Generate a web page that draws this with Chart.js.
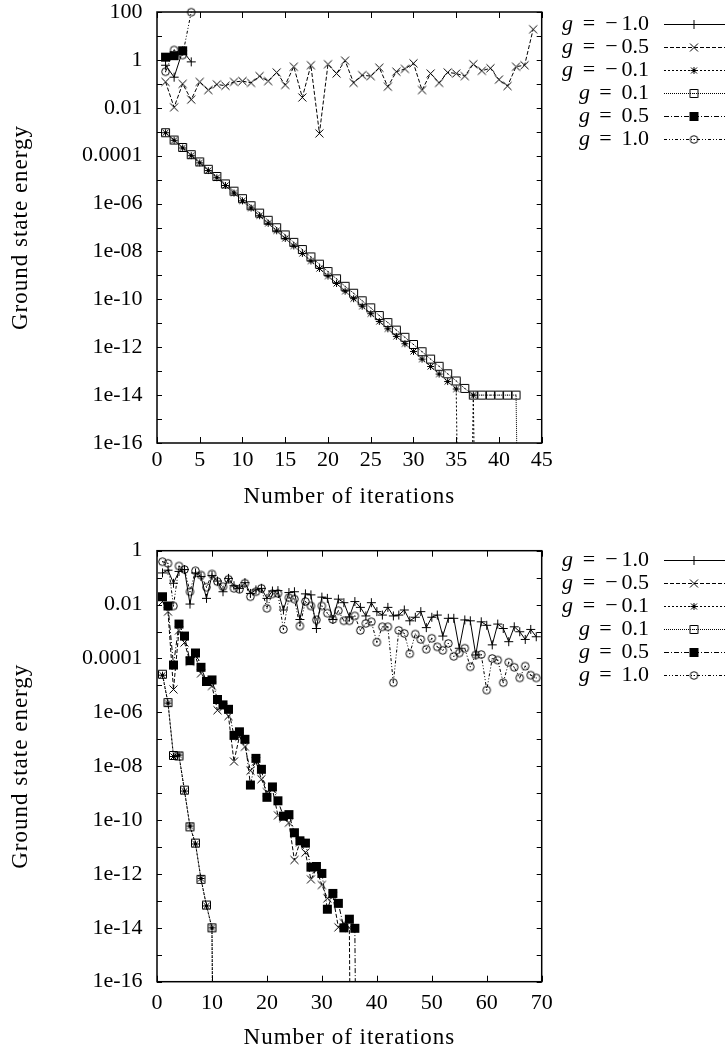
<!DOCTYPE html>
<html>
<head>
<meta charset="utf-8">
<script src="https://cdn.jsdelivr.net/npm/chart.js@4"></script>
<style>
  html, body { margin: 0; padding: 0; background: #fff; }
  #wrap { position: relative; width: 727px; height: 1053px; }
  canvas { position: absolute; left: 0; }
  #topChart { top: 0; }
  #bottomChart { top: 526px; }
</style>
</head>
<body>
<div id="wrap">
  <canvas id="topChart" width="727" height="526"></canvas>
  <canvas id="bottomChart" width="727" height="527"></canvas>
</div>
<script>
var FONT = '"Liberation Serif", "Times New Roman", serif';
var FIRST_ITER = 1;
var TINY = 1e-40; // energy underflowed: curve drops off the bottom of the log axis

var couplings = ['\u22121.0', '\u22120.5', '\u22120.1', '0.1', '0.5', '1.0'];
var xTitle = 'Number of iterations';
var yTitle = 'Ground state energy';

// ---- first run (iterations start at 1) ----
var top_m10 = [0.6, 0.19, 2.4, 0.83];
var top_m05 = [0.12, 0.0105, 0.1, 0.022, 0.12, 0.055, 0.095, 0.083, 0.12, 0.13,
               0.11, 0.21, 0.13, 0.3, 0.09, 0.52, 0.027, 0.6, 0.00085, 0.66,
               0.27, 0.93, 0.11, 0.23, 0.21, 0.47, 0.076, 0.32, 0.42, 0.72,
               0.055, 0.27, 0.11, 0.3, 0.27, 0.21, 0.66, 0.35, 0.45, 0.15,
               0.081, 0.52, 0.6, 19];
var top_m01 = [9.1e-4, 4.4e-4, 2.1e-4, 1.0e-4, 5.0e-5, 2.4e-5, 1.2e-5, 5.7e-6, 2.75e-6, 1.3e-6,
               6.5e-7, 3.1e-7, 1.5e-7, 7.3e-8, 3.5e-8, 1.7e-8, 8.3e-9, 4.0e-9, 1.95e-9, 9.4e-10,
               4.6e-10, 2.2e-10, 1.07e-10, 5.2e-11, 2.5e-11, 1.2e-11, 5.9e-12, 2.85e-12, 1.4e-12, 6.7e-13,
               3.2e-13, 1.57e-13, 7.6e-14, 3.7e-14, 1.8e-14, TINY, 1e-14, TINY];
var top_p01 = [9.1e-4, 4.5e-4, 2.2e-4, 1.1e-4, 5.5e-5, 2.7e-5, 1.35e-5, 6.6e-6, 3.3e-6, 1.6e-6,
               8.1e-7, 4.0e-7, 2.0e-7, 9.8e-8, 4.9e-8, 2.4e-8, 1.2e-8, 5.9e-9, 2.95e-9, 1.45e-9,
               7.2e-10, 3.5e-10, 1.8e-10, 8.7e-11, 4.4e-11, 2.1e-11, 1.07e-11, 5.2e-12, 2.6e-12, 1.3e-12,
               6.5e-13, 3.2e-13, 1.6e-13, 7.8e-14, 3.9e-14, 1.9e-14, 1e-14, 1e-14, 1e-14, 1e-14,
               1e-14, 1e-14, TINY];
var top_p05 = [1.3, 1.5, 2.4];
var top_p10 = [0.32, 2.6, 1.6, 98];

// ---- second run ----
var bot_m10 = [0.15, 0.19, 0.062, 0.17, 0.2, 0.0105, 0.15, 0.11, 0.017, 0.12,
               0.075, 0.03, 0.094, 0.05, 0.04, 0.065, 0.026, 0.035, 0.04, 0.017,
               0.032, 0.033, 0.0063, 0.028, 0.03, 0.0028, 0.025, 0.023, 0.0013, 0.019,
               0.017, 0.0028, 0.016, 0.0118, 0.0035, 0.013, 0.0079, 0.0038, 0.0118, 0.0055,
               0.0041, 0.0079, 0.0038, 0.0041, 0.0063, 0.0025, 0.0034, 0.0055, 0.0014, 0.0034,
               0.0041, 0.00068, 0.0031, 0.0031, 0.00024, 0.0027, 0.0025, 0.000135, 0.0023, 0.0017,
               0.00032, 0.0019, 0.0013, 0.00042, 0.0015, 0.00098, 0.00051, 0.0012, 0.00064];
var bot_m05 = [0.013, 0.0055, 7.1e-6, 0.0011, 3.9e-4, 7.6e-5, 1.2e-4, 2.8e-5, 1.4e-5, 9.5e-6,
               1.2e-6, 1.5e-6, 7.3e-7, 1.5e-8, 1.25e-7, 5.3e-8, 6.8e-9, 1.5e-8, 3.3e-9, 1.1e-9,
               1.4e-9, 1.5e-10, 1.2e-10, 8e-11, 3.3e-12, 1.5e-11, 6.2e-12, 6.3e-13, 1.5e-12, 3.9e-13,
               1.25e-13, 1.5e-13, 1.05e-14, 1.5e-14, 1e-14, TINY];
var bot_m01 = [2.4e-5, 2.2e-6, 2.3e-8, 2.6e-8, 1.2e-9, 6e-11, 1.3e-11, 6.8e-13, 6.5e-14, 1e-14, TINY];
var bot_p01 = [2.6e-5, 2.3e-6, 2.5e-8, 2.4e-8, 1.3e-9, 5.6e-11, 1.4e-11, 6.3e-13, 7e-14, 1e-14, TINY];
var bot_p05 = [0.0196, 0.0089, 5.7e-5, 0.0019, 6.8e-4, 8.3e-5, 1.6e-4, 4.7e-5, 1.4e-5, 1.6e-5,
               3e-6, 1.9e-6, 1.3e-6, 1.4e-7, 1.9e-7, 1e-7, 2e-9, 1.96e-8, 7.7e-9, 7e-10,
               1.7e-9, 5.2e-10, 1.4e-10, 1.6e-10, 3.4e-11, 1.7e-11, 1.4e-11, 1.8e-12, 1.9e-12, 1.05e-12,
               4.9e-14, 1.9e-13, 8.1e-14, 1e-14, 2.1e-14, 9.6e-15, TINY];
var bot_p10 = [0.39, 0.34, 0.0089, 0.27, 0.2, 0.03, 0.18, 0.125, 0.044, 0.137,
               0.071, 0.046, 0.087, 0.04, 0.037, 0.062, 0.0196, 0.03, 0.04, 0.0073,
               0.025, 0.026, 0.0012, 0.018, 0.016, 0.0016, 0.013, 0.0089, 0.0027, 0.0089,
               0.0048, 0.0028, 0.0059, 0.0025, 0.0025, 0.0038, 0.0011, 0.002, 0.0023, 0.0004,
               0.0015, 0.0015, 1.26e-5, 0.0011, 0.00085, 0.00015, 0.0008, 0.00051, 0.00022, 0.00056,
               0.00027, 0.0002, 0.00036, 0.00012, 0.00016, 0.00024, 4.9e-5, 0.000135, 0.00014, 6.7e-6,
               0.0001, 8.7e-5, 1.26e-5, 7.2e-5, 4.7e-5, 1.9e-5, 5.2e-5, 2.4e-5, 1.9e-5];

// labelled y ticks
var topYTicks = [1e-16, 1e-14, 1e-12, 1e-10, 1e-8, 1e-6, 1e-4, 0.01, 1, 100];
var topYLabels = ['1e-16', '1e-14', '1e-12', '1e-10', '1e-08', '1e-06', '0.0001', '0.01', '1', '100'];
var botYTicks = [1e-16, 1e-14, 1e-12, 1e-10, 1e-8, 1e-6, 1e-4, 0.01, 1];
var botYLabels = ['1e-16', '1e-14', '1e-12', '1e-10', '1e-08', '1e-06', '0.0001', '0.01', '1'];

// line type per coupling: dash pattern + point symbol
var seriesStyles = [
    {dash: [], marker: 'plus'},
    {dash: [4, 2], marker: 'cross'},
    {dash: [2, 2], marker: 'star'},
    {dash: [1, 1], marker: 'box'},
    {dash: [5, 2, 1, 2], marker: 'boxfill'},
    {dash: [3, 2, 1, 2, 1, 2], marker: 'circle'}
];

function makeMarker(kind) {
    var c = document.createElement('canvas');
    c.width = 11;
    c.height = 11;
    var g = c.getContext('2d');
    g.strokeStyle = '#000';
    g.fillStyle = '#000';
    g.lineWidth = 1;
    g.beginPath();
    if (kind === 'plus') {
        g.moveTo(1, 5.5); g.lineTo(10, 5.5);
        g.moveTo(5.5, 1); g.lineTo(5.5, 10);
    } else if (kind === 'cross') {
        g.moveTo(1.5, 1.5); g.lineTo(9.5, 9.5);
        g.moveTo(9.5, 1.5); g.lineTo(1.5, 9.5);
    } else if (kind === 'star') {
        g.moveTo(2, 5.5); g.lineTo(9, 5.5);
        g.moveTo(5.5, 2); g.lineTo(5.5, 9);
        g.moveTo(2.5, 2.5); g.lineTo(8.5, 8.5);
        g.moveTo(8.5, 2.5); g.lineTo(2.5, 8.5);
    } else if (kind === 'box') {
        g.rect(1.5, 1.5, 8, 8);
        g.fillRect(5, 5, 1, 1);
    } else if (kind === 'boxfill') {
        g.fillRect(1, 1, 9, 9);
    } else if (kind === 'circle') {
        g.arc(5.5, 5.5, 3.8, 0, Math.PI * 2);
        g.fillRect(5, 5, 1, 1);
    }
    g.stroke();
    return c;
}

var markers = {};
seriesStyles.forEach(function (s) { markers[s.marker] = makeMarker(s.marker); });

function buildDatasets(series) {
    return series.map(function (ys, k) {
        var st = seriesStyles[k];
        return {
            label: 'g = ' + couplings[k],
            data: ys.map(function (y, i) { return {x: FIRST_ITER + i, y: y}; }),
            borderColor: '#000',
            backgroundColor: '#000',
            borderWidth: 1,
            borderDash: st.dash,
            pointStyle: markers[st.marker],
            pointRadius: 4,
            pointHoverRadius: 4,
            tension: 0,
            fill: false,
            clip: {left: 8, top: 8, right: 8, bottom: 0},
            order: -k
        };
    });
}

// border box with inward ticks on all four sides, plus the axis titles
var framePlugin = {
    id: 'frame',
    afterDatasetsDraw: function (chart, args, opts) {
        var a = chart.chartArea, ctx = chart.ctx;
        var xs = chart.scales.x, ys = chart.scales.y;
        ctx.save();
        ctx.setLineDash([]);
        ctx.strokeStyle = '#000';
        ctx.lineWidth = 1;
        ctx.beginPath();
        for (var e = opts.yExpMin; e <= opts.yExpMax; e++) {
            var py = Math.round(ys.getPixelForValue(Math.pow(10, e))) + 0.5;
            ctx.moveTo(a.left, py); ctx.lineTo(a.left + 5, py);
            ctx.moveTo(a.right, py); ctx.lineTo(a.right - 5, py);
        }
        xs.ticks.forEach(function (t) {
            var px = Math.round(xs.getPixelForValue(t.value)) + 0.5;
            ctx.moveTo(px, a.bottom); ctx.lineTo(px, a.bottom - 6);
            ctx.moveTo(px, a.top); ctx.lineTo(px, a.top + 6);
        });
        ctx.stroke();
        ctx.lineWidth = 1.5;
        ctx.strokeRect(a.left, a.top, a.right - a.left, a.bottom - a.top);

        // titles: slightly tracked out, closer to the wide TeX face
        ctx.fillStyle = '#000';
        ctx.font = '23px ' + FONT;
        ctx.textAlign = 'center';
        ctx.textBaseline = 'middle';
        ctx.letterSpacing = '1px';
        ctx.fillText(xTitle, (a.left + a.right) / 2, opts.xTitleY);
        ctx.translate(opts.yTitleX, (a.top + a.bottom) / 2);
        ctx.rotate(-Math.PI / 2);
        ctx.fillText(yTitle, 0, 0);
        ctx.restore();
    }
};

// key at the right: "g = value" then a line sample with its symbol
var keyPlugin = {
    id: 'keyBox',
    afterDraw: function (chart, args, opts) {
        var ctx = chart.ctx;
        ctx.save();
        ctx.fillStyle = '#000';
        ctx.textBaseline = 'middle';
        chart.data.datasets.forEach(function (ds, k) {
            var y = opts.top + k * opts.step;
            var val = couplings[k];
            var neg = val.charAt(0) === '\u2212';
            var digits = neg ? val.slice(1) : val;
            ctx.font = '22px ' + FONT;
            ctx.textAlign = 'right';
            ctx.fillText(digits, opts.textRight, y);
            ctx.textAlign = 'center';
            if (neg) {
                ctx.fillText('\u2212', opts.textRight - 37.5, y);
                ctx.fillText('=', opts.textRight - 60, y);
            } else {
                ctx.fillText('=', opts.textRight - 43.5, y);
            }
            ctx.font = 'italic 22px ' + FONT;
            ctx.textAlign = 'right';
            ctx.fillText('g', opts.textRight - (neg ? 76 : 59), y);

            var ly = Math.round(y) + 0.5;
            ctx.strokeStyle = '#000';
            ctx.lineWidth = 1;
            ctx.setLineDash(ds.borderDash);
            ctx.beginPath();
            ctx.moveTo(opts.lineLeft, ly);
            ctx.lineTo(opts.lineRight, ly);
            ctx.stroke();
            ctx.setLineDash([]);
            var m = ds.pointStyle;
            ctx.drawImage(m, opts.markX - m.width / 2, ly - m.height / 2);
        });
        ctx.restore();
    }
};

function makeOptions(cfg) {
    return {
        responsive: false,
        animation: false,
        devicePixelRatio: 1,
        events: [],
        layout: {padding: {left: 0, top: cfg.plotTop, right: 727 - cfg.plotRight, bottom: 0}},
        plugins: {
            legend: {display: false},
            tooltip: {enabled: false},
            frame: {yExpMin: cfg.yExpMin, yExpMax: cfg.yExpMax, xTitleY: cfg.xTitleY, yTitleX: 21},
            keyBox: {top: cfg.keyTop, step: 23, textRight: 649, lineLeft: 664, lineRight: 725, markX: 694}
        },
        scales: {
            x: {
                type: 'linear',
                min: 0,
                max: cfg.xMax,
                grid: {display: false, drawTicks: false},
                border: {display: false},
                ticks: {stepSize: cfg.xStep, padding: cfg.xTickPad, autoSkip: false, maxRotation: 0, color: '#000'},
                title: {display: false},
                afterFit: function (s) {
                    s.height = cfg.xAxisHeight;
                    s.paddingLeft = 0;
                    s.paddingRight = 0;
                }
            },
            y: {
                type: 'logarithmic',
                min: Math.pow(10, cfg.yExpMin),
                max: Math.pow(10, cfg.yExpMax),
                grid: {display: false, drawTicks: false},
                border: {display: false},
                ticks: {
                    padding: 14.5,
                    autoSkip: false,
                    color: '#000',
                    callback: function (v, i) { return cfg.yLabels[i]; }
                },
                afterBuildTicks: function (s) {
                    s.ticks = cfg.yTicks.map(function (v) { return {value: v}; });
                },
                title: {display: false},
                afterFit: function (s) {
                    s.width = 157;
                    s.paddingTop = 0;
                    s.paddingBottom = 0;
                }
            }
        }
    };
}

Chart.defaults.font.family = FONT;
Chart.defaults.font.size = 22;
Chart.defaults.color = '#000';

new Chart(document.getElementById('topChart'), {
    type: 'line',
    data: {datasets: buildDatasets([top_m10, top_m05, top_m01, top_p01, top_p05, top_p10])},
    options: makeOptions({
        plotTop: 12, plotRight: 541.7, xAxisHeight: 83,
        xMax: 45, xStep: 5, xTickPad: 4.5, xTitleY: 497,
        yExpMin: -16, yExpMax: 2, yTicks: topYTicks, yLabels: topYLabels,
        keyTop: 24
    }),
    plugins: [framePlugin, keyPlugin]
});

new Chart(document.getElementById('bottomChart'), {
    type: 'line',
    data: {datasets: buildDatasets([bot_m10, bot_m05, bot_m01, bot_p01, bot_p05, bot_p10])},
    options: makeOptions({
        plotTop: 24.7, plotRight: 541.7, xAxisHeight: 71.3,
        xMax: 70, xStep: 10, xTickPad: 8.4, xTitleY: 512,
        yExpMin: -16, yExpMax: 0, yTicks: botYTicks, yLabels: botYLabels,
        keyTop: 34
    }),
    plugins: [framePlugin, keyPlugin]
});
</script>
</body>
</html>
